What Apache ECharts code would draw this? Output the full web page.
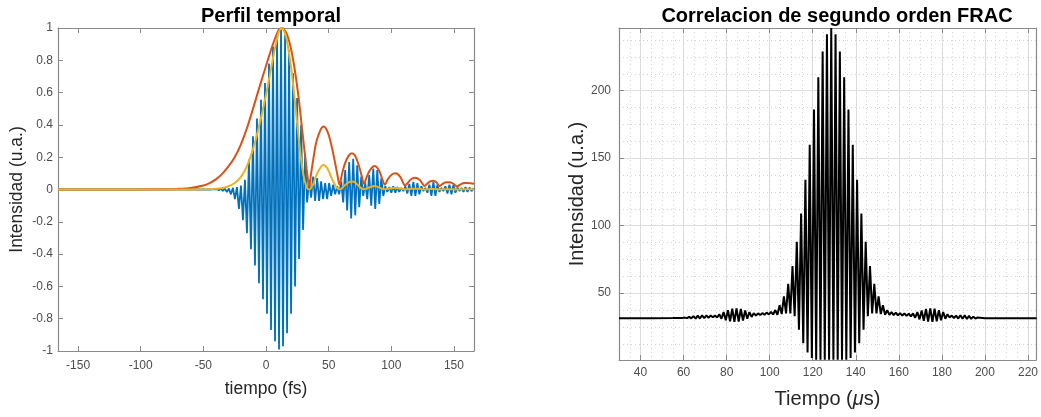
<!DOCTYPE html>
<html>
<head>
<meta charset="utf-8">
<script src="https://cdn.jsdelivr.net/npm/echarts@6/dist/echarts.min.js"></script>
<style>html,body{margin:0;padding:0;background:#fff;}#c{width:1041px;height:417px;}</style>
</head>
<body>
<div id="c"></div>
<script>
// ---------- Left panel: "Perfil temporal" ----------
const leftXTicks = [-150, -100, -50, 0, 50, 100, 150];
// blue field: times of successive extremes and their values
const blueT = [-166, -45,
  -39.2, -37.6, -36.0, -34.4, -32.8, -31.2, -29.6, -28.0, -26.4, -24.8,
  -23.2, -21.6, -20.0, -18.4, -16.8, -15.2, -13.6, -12.0, -10.4, -8.8,
  -7.2, -5.6, -4.0, -2.4, -0.8, 0.8, 2.4, 4.0, 5.6, 7.2,
  8.8, 10.4, 12.0, 13.6, 15.2, 16.8, 18.4, 20.0, 21.6, 23.2,
  24.8, 26.4, 28.0, 29.6, 31.2, 32.8, 34.4, 36.0, 37.6, 39.2,
  40.8, 42.4, 44.0, 45.6, 47.2, 48.8, 50.4, 52.0, 53.6, 55.2,
  56.8, 58.4, 60.0, 61.6, 63.2, 64.8, 66.4, 68.0, 69.6, 71.2,
  72.8, 74.4, 76.0, 77.6, 79.2, 80.8, 82.4, 84.0, 85.6, 87.2,
  88.8, 90.4, 92.0, 93.6, 95.2, 96.8, 98.4, 100.0, 101.6, 103.2,
  104.8, 106.4, 108.0, 109.6, 111.2, 112.8, 114.4, 116.0, 117.6, 119.2,
  120.8, 122.4, 124.0, 125.6, 127.2, 128.8, 130.4, 132.0, 133.6, 135.2,
  136.8, 138.4, 140.0, 141.6, 143.2, 144.8, 146.4, 148.0, 149.6, 151.2,
  152.8, 154.4, 156.0, 157.6, 159.2, 160.8, 162.4, 164.0, 165.6,
  166];
const blueV = [0, 0,
  0.003, -0.004, 0.004, -0.008, 0.005, -0.015, 0.006, -0.03, 0.01, -0.06,
  0.015, -0.12, 0.025, -0.19, 0.06, -0.27, 0.185, -0.37, 0.33, -0.47,
  0.44, -0.58, 0.556, -0.68, 0.66, -0.77, 0.78, -0.87, 0.885, -0.94,
  0.967, -0.99, 1.0, -0.97, 0.957, -0.89, 0.864, -0.77, 0.72, -0.6,
  0.566, -0.43, 0.40, -0.25, 0.22, -0.08, 0.06, -0.05, 0.08, -0.07,
  0.07, -0.07, 0.05, -0.06, 0.04, -0.06, 0.04, -0.04, 0.03, -0.03,
  0.02, -0.03, 0.05, -0.08, 0.12, -0.13, 0.17, -0.18, 0.19, -0.16,
  0.15, -0.11, 0.08, -0.04, 0.04, -0.06, 0.09, -0.1, 0.13, -0.12,
  0.12, -0.09, 0.07, -0.04, 0.02, -0.015, 0.015, -0.02, 0.02, -0.02,
  0.015, -0.015, 0.01, -0.01, 0.02, -0.025, 0.035, -0.04, 0.047, -0.04,
  0.04, -0.03, 0.02, -0.01, 0.01, -0.02, 0.03, -0.04, 0.045, -0.04,
  0.03, -0.015, 0.01, -0.01, 0.02, -0.025, 0.03, -0.03, 0.028, -0.02,
  0.012, -0.01, 0.01, -0.015, 0.015, -0.015, 0.012, -0.01, 0.008,
  0];
// envelope (red) and intensity (yellow) sampled at the same times
const envT = [-166, -80, -70, -60, -50, -45, -40, -35, -30, -25,
  -20, -15, -10, -5, 0, 3, 6, 9, 11, 13,
  15, 17, 20, 23, 26, 29, 31, 33, 34.5, 36,
  38, 40, 43, 45.8, 49, 52, 55, 57, 58.7, 60.5,
  63, 66, 68.5, 71, 74, 76.5, 78.3, 80, 83, 86.7,
  90, 93, 94.8, 97, 100, 103.4, 107, 109.5, 111, 113,
  116, 119.2, 122.5, 125, 126.5, 128.5, 131, 133.5, 136, 138.3,
  141, 144, 146.5, 149.5, 152.4, 155, 158, 161, 166];
const redV = [0, 0.001, 0.004, 0.01, 0.025, 0.04, 0.063, 0.097, 0.143, 0.2,
  0.28, 0.385, 0.51, 0.64, 0.765, 0.84, 0.91, 0.97, 0.995, 0.998,
  0.985, 0.955, 0.87, 0.74, 0.57, 0.36, 0.22, 0.09, 0.02, 0.1,
  0.2, 0.29, 0.36, 0.39, 0.36, 0.28, 0.17, 0.09, 0.03, 0.09,
  0.16, 0.21, 0.225, 0.21, 0.15, 0.08, 0.035, 0.07, 0.12, 0.145,
  0.12, 0.06, 0.03, 0.06, 0.09, 0.1, 0.08, 0.04, 0.025, 0.04,
  0.065, 0.072, 0.06, 0.035, 0.022, 0.035, 0.05, 0.054, 0.045, 0.022,
  0.035, 0.045, 0.045, 0.035, 0.02, 0.03, 0.04, 0.04, 0.035];
const yelV = [0, 0, 0, 0, 0.001, 0.002, 0.004, 0.009, 0.02, 0.04,
  0.078, 0.148, 0.26, 0.41, 0.585, 0.705, 0.83, 0.94, 0.99, 0.996,
  0.97, 0.91, 0.757, 0.55, 0.325, 0.13, 0.05, 0.008, 0.0, 0.01,
  0.04, 0.084, 0.13, 0.152, 0.13, 0.078, 0.029, 0.008, 0.001, 0.008,
  0.026, 0.044, 0.05, 0.044, 0.022, 0.006, 0.001, 0.005, 0.014, 0.021,
  0.014, 0.004, 0.001, 0.004, 0.008, 0.01, 0.006, 0.002, 0.001, 0.002,
  0.004, 0.005, 0.004, 0.001, 0, 0.001, 0.003, 0.003, 0.002, 0,
  0.001, 0.002, 0.002, 0.001, 0, 0.001, 0.002, 0.002, 0.001];

// ---------- Right panel: FRAC ----------
const rightXTicks = [40, 60, 80, 100, 120, 140, 160, 180, 200, 220];
const rightYTicks = [50, 100, 150, 200];
const rightYMinor = [12.5, 25, 37.5, 62.5, 75, 87.5, 112.5, 125, 137.5, 162.5, 175, 187.5, 212.5, 225, 237.5];
const fracT = [30, 45, 55, 59.6,
  60.6, 61.6, 62.6, 63.6, 64.6, 65.6, 66.6, 67.6, 68.6, 69.6,
  70.6, 71.6, 72.6, 73.6, 74.6, 75.6, 76.6, 77.6, 78.6, 79.6,
  80.6, 81.6, 82.6, 83.6, 84.6, 85.6, 86.6, 87.6, 88.6, 89.6,
  90.6, 91.6, 92.6, 93.6, 94.6, 95.6, 96.6, 97.6, 98.6, 99.6,
  100.6, 101.6, 102.6, 103.6, 104.6, 105.6, 106.6, 107.6, 108.6, 109.6,
  110.6, 111.6, 112.6, 113.6, 114.6, 115.6, 116.6, 117.6, 118.6, 119.6,
  120.6, 121.6, 122.6, 123.6, 124.6, 125.6, 126.6, 127.6, 128.6, 129.6,
  130.6, 131.6, 132.6, 133.6, 134.6, 135.6, 136.6, 137.6, 138.6, 139.6,
  140.6, 141.6, 142.6, 143.6, 144.6, 145.6, 146.6, 147.6, 148.6, 149.6,
  150.6, 151.6, 152.6, 153.6, 154.6, 155.6, 156.6, 157.6, 158.6, 159.6,
  160.6, 161.6, 162.6, 163.6, 164.6, 165.6, 166.6, 167.6, 168.6, 169.6,
  170.6, 171.6, 172.6, 173.6, 174.6, 175.6, 176.6, 177.6, 178.6, 179.6,
  180.6, 181.6, 182.6, 183.6, 184.6, 185.6, 186.6, 187.6, 188.6, 189.6,
  190.6, 191.6, 192.6, 193.6, 194.6, 195.6, 196.6,
  200, 212, 224];
const fracV = [31.5, 31.5, 31.6, 31.7,
  31.9, 31.5, 32.4, 31.4, 33.0, 31.2, 33.4, 31.2, 33.6, 31.4,
  33.6, 31.8, 33.4, 32.2, 33.4, 32.0, 34.4, 31.0, 36.0, 30.0,
  37.4, 29.2, 38.5, 28.8, 38.8, 29.0, 38.3, 29.8, 37.2, 31.0,
  36.0, 32.4, 35.2, 33.4, 35.0, 33.8, 35.2, 34.0, 35.6, 34.2,
  36.2, 34.2, 37.5, 34.0, 41, 34.5, 47.6, 35, 57, 35,
  70, 33, 88, 23, 109, 13, 134, 6, 160, 2,
  186, 0.6, 210, 0.6, 229, 0.6, 241.8, 0.6, 246.4, 0.6,
  241.8, 0.6, 229, 0.6, 210, 0.6, 186, 2, 160, 6,
  134, 13, 109, 23, 88, 33, 70, 35, 57, 35,
  47.6, 34.5, 41, 34, 37.5, 34, 36, 33.8, 35.6, 33.6,
  35.2, 33.4, 35, 33.2, 34.8, 32.8, 35, 31.8, 36, 30.6,
  37.2, 29.6, 38.3, 29.0, 38.8, 28.8, 38.5, 29.2, 37.4, 30.0,
  36.0, 31.0, 34.4, 32.0, 33.4, 31.6, 33.4, 31.2, 33.6, 31.0,
  33.6, 30.9, 33.2, 31.0, 32.5, 31.2, 32.0,
  31.4, 31.4, 31.4];

const zip = (a, b) => a.map((x, i) => [x, b[i]]);
const FONT = '"Liberation Sans", Arial, Helvetica, sans-serif';
const AX = '#8a8a8a', LAB = '#4d4d4d', NAME = '#262626';

function boxAxis(o) {
  return Object.assign({
    type: 'value',
    axisLine: { show: true, onZero: false, lineStyle: { color: AX, width: 1.2 } },
    axisTick: { show: true, inside: true, length: 5, lineStyle: { color: AX, width: 1 } },
    axisLabel: { show: false },
    splitLine: { show: false }
  }, o);
}
const lab = (vals, extra) => Object.assign({ show: true, customValues: vals, color: LAB, fontSize: 12, fontFamily: FONT }, extra || {});
const tick = (vals) => ({ show: true, inside: true, length: 5, customValues: vals, lineStyle: { color: AX, width: 1 } });

const chart = echarts.init(document.getElementById('c'), null, { renderer: 'canvas' });
chart.setOption({
  animation: false,
  backgroundColor: '#fff',
  title: [
    { text: 'Perfil temporal', left: 266, top: 1, textAlign: 'center',
      textStyle: { fontSize: 20, fontWeight: 'bold', color: '#000', fontFamily: FONT } },
    { text: 'Correlacion de segundo orden FRAC', left: 832, top: 1, textAlign: 'center',
      textStyle: { fontSize: 20, fontWeight: 'bold', color: '#000', fontFamily: FONT } }
  ],
  grid: [
    { left: 58, top: 28, width: 416, height: 323, containLabel: false },
    { left: 619, top: 28, width: 421, height: 332, containLabel: false }
  ],
  xAxis: [
    boxAxis({ gridIndex: 0, position: 'bottom', min: -166, max: 166,
      axisTick: tick(leftXTicks), axisLabel: lab(leftXTicks, { margin: 9 }),
      name: 'tiempo (fs)', nameLocation: 'middle', nameGap: 29,
      nameTextStyle: { fontSize: 17.5, color: NAME, fontFamily: FONT } }),
    boxAxis({ gridIndex: 0, position: 'top', min: -166, max: 166, axisTick: tick(leftXTicks) }),
    boxAxis({ gridIndex: 1, position: 'bottom', min: 30, max: 223.7,
      axisTick: tick(rightXTicks), axisLabel: lab(rightXTicks, { margin: 7 }),
      splitLine: { show: true, lineStyle: { color: '#dedede', width: 1 } },
      name: 'Tiempo ({mu|μ}s)', nameLocation: 'middle', nameGap: 29,
      nameTextStyle: { fontSize: 20, color: NAME, fontFamily: FONT,
        rich: { mu: { fontSize: 20, fontStyle: 'italic', color: NAME, fontFamily: FONT } } } }),
    boxAxis({ gridIndex: 1, position: 'top', min: 30, max: 223.7, axisTick: tick(rightXTicks) }),
    { type: 'value', gridIndex: 1, position: 'bottom', min: 30, max: 223.7, interval: 5,
      axisLine: { show: false }, axisTick: { show: false }, axisLabel: { show: false },
      splitLine: { show: true, lineStyle: { color: '#d2d2d2', width: 1, type: [1, 3] } }, z: 0 }
  ],
  yAxis: [
    boxAxis({ gridIndex: 0, position: 'left', min: -1, max: 1, interval: 0.2,
      axisTick: { show: true, inside: true, length: 5, lineStyle: { color: AX, width: 1 } },
      axisLabel: { show: true, color: LAB, fontSize: 12, fontFamily: FONT, margin: 5 },
      name: 'Intensidad (u.a.)', nameLocation: 'middle', nameGap: 32,
      nameTextStyle: { fontSize: 17.5, color: NAME, fontFamily: FONT } }),
    boxAxis({ gridIndex: 0, position: 'right', min: -1, max: 1, interval: 0.2,
      axisTick: { show: true, inside: true, length: 5, lineStyle: { color: AX, width: 1 } } }),
    boxAxis({ gridIndex: 1, position: 'left', min: 0.5, max: 246.4,
      axisTick: tick(rightYTicks), axisLabel: lab(rightYTicks, { margin: 8 }),
      splitLine: { show: true, lineStyle: { color: '#dedede', width: 1 } },
      name: 'Intensidad (u.a.)', nameLocation: 'middle', nameGap: 31,
      nameTextStyle: { fontSize: 20, color: NAME, fontFamily: FONT } }),
    boxAxis({ gridIndex: 1, position: 'right', min: 0.5, max: 246.4, axisTick: tick(rightYTicks) }),
    { type: 'value', gridIndex: 1, position: 'left', min: 0.5, max: 246.4,
      axisLine: { show: false }, axisTick: { show: false, customValues: rightYMinor }, axisLabel: { show: false },
      splitLine: { show: true, lineStyle: { color: '#d2d2d2', width: 1, type: [1, 3] } }, z: 0 }
  ],
  series: [
    { type: 'line', xAxisIndex: 0, yAxisIndex: 0, data: zip(blueT, blueV), showSymbol: false,
      lineStyle: { color: '#0072BD', width: 1.8 }, sampling: null, z: 2 },
    { type: 'line', xAxisIndex: 0, yAxisIndex: 0, data: zip(envT, redV), showSymbol: false,
      smooth: 0.4, lineStyle: { color: '#D95319', width: 2 }, z: 3 },
    { type: 'line', xAxisIndex: 0, yAxisIndex: 0, data: zip(envT, yelV), showSymbol: false,
      smooth: 0.4, lineStyle: { color: '#EDB120', width: 2 }, z: 4 },
    { type: 'line', xAxisIndex: 2, yAxisIndex: 2, data: zip(fracT, fracV), showSymbol: false,
      lineStyle: { color: '#000', width: 2 }, z: 3 }
  ]
});
</script>
</body>
</html>
